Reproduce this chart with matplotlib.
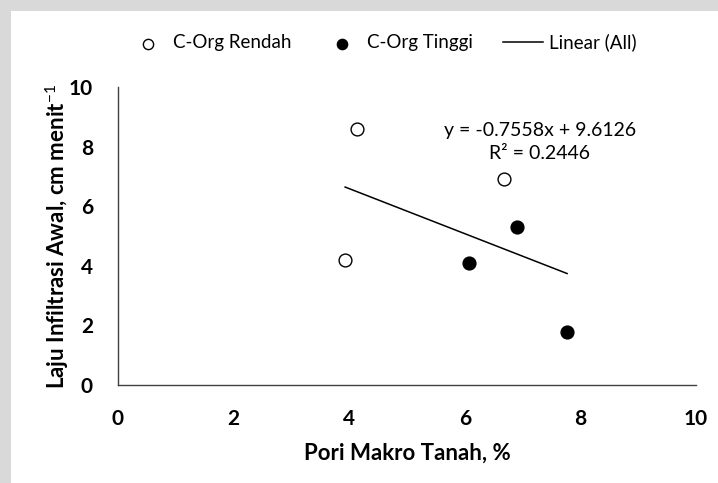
import numpy as np
import matplotlib.pyplot as plt
from matplotlib.patches import Rectangle

plt.rcParams["font.family"] = ["Lato", "DejaVu Sans"]
plt.rcParams["mathtext.fontset"] = "custom"
plt.rcParams["mathtext.rm"] = "Lato"
plt.rcParams["mathtext.bf"] = "Lato:bold"

# pori makro (%) vs laju infiltrasi awal (cm/menit)
rendah_x = [4.13, 6.68, 3.93]
rendah_y = [8.59, 6.91, 4.19]
tinggi_x = [6.07, 6.90, 7.77]
tinggi_y = [4.09, 5.30, 1.78]

slope = -0.7558
intercept = 9.6126
r_squared = 0.2446

x_ticks = [0, 2, 4, 6, 8, 10]
y_ticks = [0, 2, 4, 6, 8, 10]

fig = plt.figure(figsize=(7.18, 4.83), dpi=100)
fig.patch.set_facecolor("#d9d9d9")
fig.patches.append(Rectangle((11 / 718, 0), 1, 1 - 11 / 483,
                             transform=fig.transFigure, facecolor="white",
                             edgecolor="none", zorder=-5))

ax = fig.add_axes([0.1643, 0.2029, 0.8051, 0.6170])
ax.set_facecolor("none")

ax.scatter(rendah_x, rendah_y, s=85, facecolors="white", edgecolors="black",
           linewidths=1.0, label="C-Org Rendah", zorder=3)
ax.scatter(tinggi_x, tinggi_y, s=85, facecolors="black", edgecolors="black",
           linewidths=1.0, label="C-Org Tinggi", zorder=3)

all_x = np.array(rendah_x + tinggi_x)
fit_x = np.array([all_x.min(), all_x.max()])
ax.plot(fit_x, slope * fit_x + intercept, color="black", linewidth=1.1,
        label="Linear (All)", zorder=2)

ax.text(7.30, 8.15, f"y = {slope}x + {intercept}\nR² = {r_squared}",
        ha="center", va="center", fontsize=14, linespacing=1.4)

ax.set_xlim(0, 10)
ax.set_ylim(0, 10)
ax.set_xticks(x_ticks)
ax.set_yticks(y_ticks)
ax.tick_params(length=0, labelsize=15)
ax.tick_params(axis="x", pad=17)
ax.tick_params(axis="y", pad=18)
for lbl in ax.get_xticklabels() + ax.get_yticklabels():
    lbl.set_fontweight("bold")

for side in ["top", "right"]:
    ax.spines[side].set_visible(False)
for side in ["left", "bottom"]:
    ax.spines[side].set_color("#404040")
    ax.spines[side].set_linewidth(1.0)

ax.set_xlabel("Pori Makro Tanah, %", fontsize=16, fontweight="bold")
ax.set_ylabel(r"Laju Infiltrasi Awal, cm menit$^{-1}$", fontsize=16,
              fontweight="bold")
ax.xaxis.set_label_coords(0.5, -0.192)
ax.yaxis.set_label_coords(-0.081, 0.5)

fig.legend(loc="center", bbox_to_anchor=(0.532, 0.912), ncol=3,
           frameon=False, fontsize=13.5, handlelength=2.13,
           columnspacing=1.6, handletextpad=0.3, markerscale=0.8)

fig.savefig("out.png", dpi=100, facecolor=fig.get_facecolor())
